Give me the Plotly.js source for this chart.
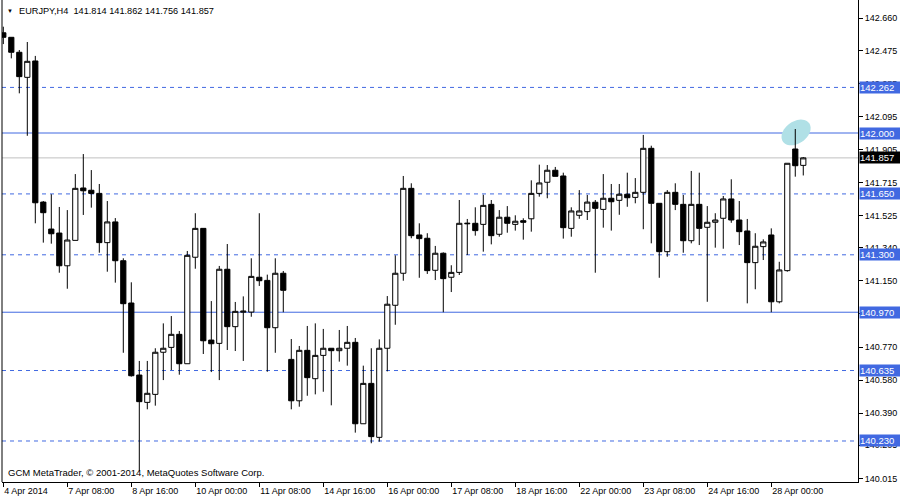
<!DOCTYPE html>
<html><head><meta charset="utf-8">
<script src="https://cdn.plot.ly/plotly-3.0.1.min.js"></script>
<style>html,body{margin:0;padding:0;background:#fff}#chart{width:900px;height:500px}</style>
</head><body><div id="chart"></div>
<script>
// Bar index 0..100 (H4 bars from 4 Apr 2014 00:00)
const openP = [142.576,142.550,142.464,142.320,142.414,141.603,141.448,141.425,141.237,141.383,
141.684,141.671,141.653,141.370,141.489,141.266,141.023,140.609,140.452,140.498,
140.740,140.768,140.843,140.674,141.286,141.452,140.810,140.791,141.217,140.887,
140.970,140.971,141.171,141.153,140.881,141.194,140.699,140.461,140.751,140.588,
140.722,140.763,140.749,140.763,140.797,140.329,140.561,140.251,140.763,141.010,
141.194,141.682,141.414,141.395,141.211,141.309,141.171,141.199,141.478,141.481,
141.475,141.590,141.418,141.516,141.475,141.496,141.507,141.653,141.717,141.786,
141.753,141.452,141.527,141.548,141.602,141.561,141.625,141.613,141.648,141.630,
141.659,141.912,141.596,141.318,141.659,141.590,141.381,141.590,141.458,141.487,
141.510,141.621,141.500,141.437,141.255,141.347,141.414,141.030,141.209,141.908,141.814];
const highP = [142.611,142.550,142.477,142.523,142.443,141.609,141.648,141.575,141.557,141.764,
141.879,141.787,141.707,141.609,141.511,141.280,141.142,140.690,140.690,140.763,
140.906,140.948,140.862,141.322,141.539,141.452,141.034,141.236,141.362,141.029,
141.061,141.280,141.539,141.186,141.280,141.207,140.816,140.776,140.891,140.906,
140.874,140.763,140.868,140.891,140.822,140.663,140.763,140.814,141.063,141.297,
141.753,141.711,141.481,141.424,141.351,141.314,141.240,141.615,141.506,141.573,
141.645,141.615,141.557,141.580,141.527,141.510,141.728,141.818,141.816,141.805,
141.772,141.573,141.672,141.644,141.615,141.764,141.707,141.707,141.772,141.741,
141.989,141.927,141.596,141.672,141.711,141.644,141.782,141.772,141.580,141.539,
141.638,141.734,141.609,141.506,141.424,141.389,141.452,141.260,141.826,142.023,141.862];
const lowP = [142.511,142.429,142.228,141.984,141.481,141.370,141.364,141.197,141.105,141.383,
141.529,141.571,141.312,141.203,141.140,140.737,140.600,140.057,140.412,140.433,
140.580,140.638,140.611,140.674,141.220,140.730,140.626,140.580,140.753,140.747,
140.690,140.944,141.121,140.628,140.737,140.970,140.412,140.427,140.490,140.498,
140.513,140.435,140.686,140.663,140.278,140.329,140.217,140.226,140.630,140.898,
141.151,141.395,141.168,141.190,141.155,140.970,141.086,141.184,141.299,141.410,
141.318,141.360,141.404,141.427,141.439,141.387,141.433,141.634,141.625,141.751,
141.393,141.404,141.507,141.500,141.197,141.456,141.439,141.530,141.576,141.596,
141.447,141.366,141.168,141.289,141.557,141.312,141.366,141.356,141.030,141.341,
141.335,141.484,141.356,141.021,141.102,141.270,140.970,141.021,141.203,141.749,141.756];
const closeP = [142.550,142.464,142.324,142.412,141.599,141.542,141.421,141.237,141.385,141.682,
141.668,141.653,141.370,141.489,141.266,141.019,140.605,140.456,140.504,140.740,
140.763,140.843,140.674,141.297,141.452,140.806,140.789,141.217,140.887,140.975,
140.976,141.176,141.151,140.881,141.194,141.096,140.461,140.751,140.594,140.722,
140.763,140.749,140.763,140.797,140.329,140.561,140.255,140.763,141.016,141.194,
141.682,141.410,141.393,141.209,141.309,141.163,141.199,141.481,141.481,141.439,
141.584,141.410,141.516,141.481,141.493,141.487,141.653,141.713,141.786,141.751,
141.456,141.552,141.552,141.603,141.567,141.625,141.605,141.648,141.628,141.659,
141.912,141.596,141.318,141.659,141.590,141.381,141.590,141.452,141.487,141.500,
141.621,141.500,141.433,141.255,141.349,141.374,141.030,141.213,141.826,141.812,141.857];

const xTickIdx = [0,8,16,24,32,40,48,56,64,72,80,88,96];
const xTickLabels = ["4 Apr 2014","7 Apr 08:00","8 Apr 16:00","10 Apr 00:00","11 Apr 08:00","14 Apr 16:00","16 Apr 00:00","17 Apr 08:00","18 Apr 16:00","22 Apr 00:00","23 Apr 08:00","24 Apr 16:00","28 Apr 00:00"];
const yTickVals = [142.660,142.475,142.285,142.095,141.905,141.715,141.525,141.340,141.150,140.960,140.770,140.580,140.390,140.205,140.015];

const dashedLevels = [142.262,141.650,141.300,140.635,140.230];
const solidLevels = [142.000,140.970];
const lastPrice = 141.857;
const header = "EURJPY,H4  141.814 141.862 141.756 141.857";
const copyright = "GCM MetaTrader, \u00a9 2001-2014, MetaQuotes Software Corp.";
const ellipseCenter = {bar: 99.1, price: 142.003};

const idx = openP.map((_, i) => i);
const BLUE = '#4169e1';
const FONT = 'Liberation Sans, Arial, sans-serif';

const shapes = [];
dashedLevels.forEach(v => shapes.push({type:'line', xref:'paper', x0:0, x1:1, yref:'y', y0:v, y1:v, layer:'below', line:{color:BLUE, width:1, dash:'4px,4px'}}));
solidLevels.forEach(v => shapes.push({type:'line', xref:'paper', x0:0, x1:1, yref:'y', y0:v, y1:v, layer:'below', line:{color:BLUE, width:1}}));
shapes.push({type:'line', xref:'paper', x0:0, x1:1, yref:'y', y0:lastPrice, y1:lastPrice, layer:'below', line:{color:'#c0c0c0', width:1}});
// tilted highlight ellipse (pixel semi-axes converted to axis units)
(function(){
  const a = 16, b = 11, th = 35*Math.PI/180, pxPerBar = 8, pxPerPrice = 174;
  let d = '';
  for (let k = 0; k <= 48; k++) {
    const t = 2*Math.PI*k/48;
    const dx = a*Math.cos(t)*Math.cos(th) - b*Math.sin(t)*Math.sin(th);
    const dy = a*Math.cos(t)*Math.sin(th) + b*Math.sin(t)*Math.cos(th);
    const X = ellipseCenter.bar + dx/pxPerBar, Y = ellipseCenter.price + dy/pxPerPrice;
    d += (k === 0 ? 'M' : 'L') + X.toFixed(4) + ',' + Y.toFixed(5);
  }
  d += 'Z';
  shapes.push({type:'path', path:d, xref:'x', yref:'y', layer:'below', fillcolor:'#b0e0e6', line:{width:0}});
})();
shapes.push({type:'line', xref:'paper', x0:0, x1:0, yref:'paper', y0:0, y1:1, line:{color:'#000', width:1}});

const annotations = [];
dashedLevels.concat(solidLevels).forEach(v => annotations.push({
  xref:'paper', x:1, xanchor:'left', xshift:1, yref:'y', y:v, yanchor:'middle',
  text:v.toFixed(3), showarrow:false, bgcolor:BLUE, font:{family:FONT, size:9.5, color:'#fff'},
  width:40, height:11, borderpad:0, align:'left'
}));
annotations.push({xref:'paper', x:1, xanchor:'left', xshift:1, yref:'y', y:lastPrice, yanchor:'middle',
  text:lastPrice.toFixed(3), showarrow:false, bgcolor:'#000', font:{family:FONT, size:9.5, color:'#fff'},
  width:40, height:11, borderpad:0, align:'left'});
annotations.push({xref:'paper', x:0, xanchor:'left', xshift:3, yref:'paper', y:1, yanchor:'top', yshift:-6,
  text:'\u25bc', showarrow:false, font:{family:FONT, size:6, color:'#000'}});
annotations.push({xref:'paper', x:0, xanchor:'left', xshift:15, yref:'paper', y:1, yanchor:'top', yshift:-4,
  text:header, showarrow:false, font:{family:FONT, size:9.2, color:'#000'}});
annotations.push({xref:'paper', x:0, xanchor:'left', xshift:4, yref:'paper', y:0, yanchor:'bottom', yshift:2,
  text:copyright, showarrow:false, font:{family:FONT, size:9.5, color:'#000'}});

const trace = {
  type:'candlestick', x:idx, open:openP, high:highP, low:lowP, close:closeP,
  increasing:{line:{color:'#000', width:1}, fillcolor:'#ffffff'},
  decreasing:{line:{color:'#000', width:1}, fillcolor:'#000000'},
  whiskerwidth:0, hoverinfo:'none', showlegend:false
};

const layout = {
  width:900, height:500, margin:{l:2, r:42, t:0, b:18},
  paper_bgcolor:'#fff', plot_bgcolor:'#fff',
  boxgap:0.35, boxgroupgap:0,
  showlegend:false,
  xaxis:{type:'linear', range:[-0.1625, 106.84], rangeslider:{visible:false},
    tickvals:xTickIdx, ticktext:xTickLabels, ticks:'outside', ticklen:4, tickcolor:'#000',
    ticklabelposition:'outside right', showgrid:false, zeroline:false,
    showline:true, linecolor:'#000', linewidth:1,
    tickfont:{family:FONT, size:9, color:'#000'}, fixedrange:true},
  yaxis:{side:'right', range:[139.9943, 142.7644], tickvals:yTickVals, tickformat:'.3f',
    ticks:'outside', ticklen:4, tickcolor:'#000', showgrid:false, zeroline:false,
    showline:true, linecolor:'#000', linewidth:1,
    tickfont:{family:FONT, size:9, color:'#000'}, fixedrange:true},
  shapes:shapes, annotations:annotations
};
Plotly.newPlot('chart', [trace], layout, {staticPlot:true, displayModeBar:false});
</script>
</body></html>
